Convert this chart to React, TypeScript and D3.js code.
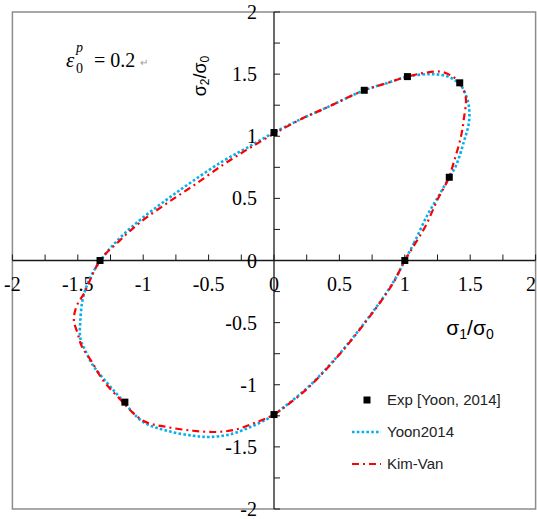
import React from 'react';
import * as d3 from 'd3';

const W = 537;
const H = 519;

const tickLabels = [-2, -1.5, -1, -0.5, 0, 0.5, 1, 1.5, 2];
const minorTicks = [-2, -1.75, -1.5, -1.25, -1, -0.75, -0.5, -0.25, 0, 0.25, 0.5, 0.75, 1, 1.25, 1.5, 1.75, 2];

const expX = [-1.33, 0, 0.69, 1.02, 1.42, 1.34, 1.0, 0, -1.14];
const expY = [0, 1.03, 1.37, 1.48, 1.43, 0.67, 0, -1.24, -1.14];

const yoonX = [1.0, 1.07, 1.17, 1.27, 1.34, 1.39, 1.45, 1.49, 1.49, 1.46, 1.42, 1.33, 1.2, 1.02, 0.87, 0.69, 0.38, 0.23, 0, -0.21, -0.39, -0.62, -0.82, -1.02, -1.18, -1.32, -1.41, -1.46, -1.48, -1.48, -1.44, -1.38, -1.28, -1.18, -1.0, -0.82, -0.62, -0.49, -0.34, -0.18, -0.06, 0, 0.1, 0.25, 0.4, 0.55, 0.7, 0.82, 0.92];
const yoonY = [0, 0.14, 0.36, 0.54, 0.67, 0.76, 0.95, 1.11, 1.24, 1.35, 1.42, 1.48, 1.5, 1.48, 1.43, 1.37, 1.22, 1.15, 1.03, 0.905, 0.8, 0.64, 0.49, 0.33, 0.18, 0.01, -0.15, -0.3, -0.47, -0.63, -0.73, -0.85, -0.98, -1.1, -1.3, -1.37, -1.41, -1.42, -1.4, -1.34, -1.28, -1.24, -1.16, -1.03, -0.87, -0.69, -0.49, -0.32, -0.16];

const kimX = [1.0, 1.07, 1.16, 1.25, 1.33, 1.38, 1.43, 1.45, 1.465, 1.41, 1.35, 1.27, 1.15, 1.02, 0.87, 0.69, 0.38, 0.23, 0, -0.21, -0.39, -0.62, -0.82, -1.02, -1.18, -1.33, -1.45, -1.51, -1.53, -1.5, -1.47, -1.39, -1.31, -1.2, -1.0, -0.82, -0.62, -0.44, -0.29, -0.13, 0, 0.1, 0.25, 0.4, 0.55, 0.7, 0.82, 0.92];
const kimY = [0, 0.12, 0.28, 0.49, 0.65, 0.81, 1.0, 1.13, 1.32, 1.44, 1.49, 1.52, 1.51, 1.48, 1.43, 1.37, 1.22, 1.15, 1.02, 0.89, 0.77, 0.6, 0.46, 0.31, 0.16, 0, -0.26, -0.37, -0.48, -0.59, -0.69, -0.82, -0.96, -1.09, -1.29, -1.34, -1.37, -1.38, -1.36, -1.3, -1.24, -1.165, -1.035, -0.875, -0.695, -0.495, -0.325, -0.165];

const legendLabels = ['Exp [Yoon, 2014]', 'Yoon2014', 'Kim-Van'];

const fmt = (v: number) => String(v);

export default function App() {
  const x = d3.scaleLinear().domain([-2, 2]).range([12.4, 535.6]);
  const y = d3.scaleLinear().domain([-2, 2]).range([509, 12]);
  const x0 = x(0);
  const y0 = y(0);

  const line = d3
    .line<[number, number]>()
    .x((d) => x(d[0]))
    .y((d) => y(d[1]))
    .curve(d3.curveCatmullRomClosed.alpha(0.5));

  const yoonPts = yoonX.map((v, i) => [v, yoonY[i]] as [number, number]);
  const kimPts = kimX.map((v, i) => [v, kimY[i]] as [number, number]);

  const serif = "'Liberation Serif', 'Times New Roman', serif";
  const sans = "'Liberation Sans', Arial, sans-serif";
  const blue = '#00B0F0';
  const red = '#FF0000';
  const ms = 7;

  return (
    <svg
      width={W}
      height={H}
      style={{ position: 'absolute', left: 0, top: 0, background: '#fff' }}
    >
      <rect x={0} y={0} width={W} height={H} fill="#fff" />
      {/* frame */}
      <rect
        x={x(-2)}
        y={y(2)}
        width={x(2) - x(-2)}
        height={y(-2) - y(2)}
        fill="none"
        stroke="#8c8c8c"
        strokeWidth={1.5}
      />
      {/* axes */}
      <line x1={x(-2)} x2={x(2)} y1={y0} y2={y0} stroke="#1a1a1a" strokeWidth={1.3} />
      <line x1={x0} x2={x0} y1={y(2)} y2={y(-2)} stroke="#1a1a1a" strokeWidth={1.3} />
      {minorTicks.map((t) => (
        <line key={'xt' + t} x1={x(t)} x2={x(t)} y1={y0} y2={y0 - 6} stroke="#1a1a1a" strokeWidth={1} />
      ))}
      {minorTicks.map((t) => (
        <line key={'yt' + t} x1={x0} x2={x0 + 6} y1={y(t)} y2={y(t)} stroke="#1a1a1a" strokeWidth={1} />
      ))}
      {/* tick labels */}
      {tickLabels.map((t) => {
        const last = t === 2;
        return (
          <text
            key={'xl' + t}
            x={last ? W - 1 : x(t)}
            y={y0 + 30}
            textAnchor={last ? 'end' : 'middle'}
            fontFamily={serif}
            fontSize={20}
            fill="#000"
          >
            {fmt(t)}
          </text>
        );
      })}
      {tickLabels.map((t) => (
        <text key={'yl' + t} x={x0 - 17} y={y(t)} dy="0.35em" textAnchor="end" fontFamily={serif} fontSize={20} fill="#000">
          {fmt(t)}
        </text>
      ))}
      {/* curves */}
      <path d={line(yoonPts) || ''} fill="none" stroke={blue} strokeWidth={2.6} strokeDasharray="2.6 2.2" />
      <path d={line(kimPts) || ''} fill="none" stroke={red} strokeWidth={2.2} strokeDasharray="7 4 2 4" />
      {/* experimental points */}
      {expX.map((v, i) => (
        <rect key={'e' + i} x={x(v) - ms / 2} y={y(expY[i]) - ms / 2} width={ms} height={ms} fill="#000" />
      ))}
      {/* axis titles */}
      <text x={470} y={335} textAnchor="middle" fontFamily={sans} fontSize={21} fill="#000">
        σ<tspan fontSize={14} dy={4}>1</tspan>
        <tspan dy={-4}>/σ</tspan>
        <tspan fontSize={14} dy={4}>0</tspan>
      </text>
      <text
        transform="translate(206,76) rotate(-90)"
        textAnchor="middle"
        fontFamily={sans}
        fontSize={18}
        fill="#000"
      >
        σ<tspan fontSize={12} dy={3}>2</tspan>
        <tspan dy={-3}>/σ</tspan>
        <tspan fontSize={12} dy={3}>0</tspan>
      </text>
      {/* epsilon annotation */}
      <text x={66} y={67} fontFamily={serif} fontSize={21} fontStyle="italic" fill="#000">ε</text>
      <text x={76} y={52} fontFamily={serif} fontSize={14} fontStyle="italic" fill="#000">p</text>
      <text x={76} y={73} fontFamily={serif} fontSize={14} fill="#000">0</text>
      <text x={94} y={67} fontFamily={serif} fontSize={20} fill="#000">= 0.2</text>
      <text x={140} y={66} fontFamily={sans} fontSize={10} fill="#999">↵</text>
      {/* legend */}
      <rect x={367 - ms / 2} y={400 - ms / 2} width={ms} height={ms} fill="#000" />
      <line x1={352} x2={381} y1={432} y2={432} stroke={blue} strokeWidth={2.6} strokeDasharray="2.6 2.2" />
      <line x1={352} x2={381} y1={464} y2={464} stroke={red} strokeWidth={2.2} strokeDasharray="7 4 2 4" />
      {legendLabels.map((l, i) => (
        <text key={l} x={387} y={400 + i * 32} dy="0.35em" fontFamily={sans} fontSize={15} fill="#222">
          {l}
        </text>
      ))}
    </svg>
  );
}
